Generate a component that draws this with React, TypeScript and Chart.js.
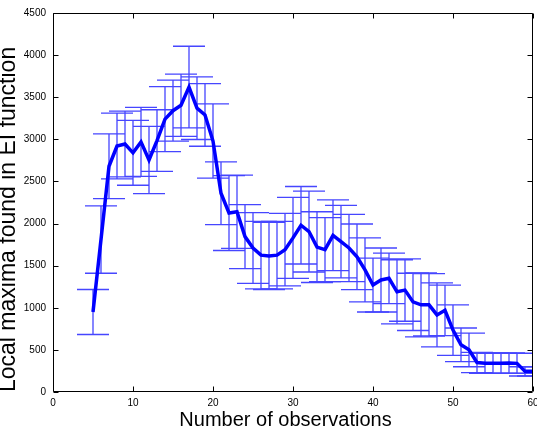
import React, { useEffect, useRef } from 'react';
import { Chart, registerables } from 'chart.js';

Chart.register(...registerables);

// Number of observations (x)
const observations = [
  5, 6, 7, 8, 9, 10, 11, 12, 13, 14, 15, 16, 17, 18, 19, 20,
  21, 22, 23, 24, 25, 26, 27, 28, 29, 30, 31, 32, 33, 34, 35, 36,
  37, 38, 39, 40, 41, 42, 43, 44, 45, 46, 47, 48, 49, 50, 51, 52,
  53, 54, 55, 56, 57, 58, 59, 60,
];

// Mean number of local maxima found in EI function
const meanMaxima = [
  950, 1810, 2680, 2920, 2945, 2840, 2970, 2755, 2985, 3240, 3340, 3405, 3620, 3370, 3290, 2980,
  2360, 2125, 2140, 1845, 1710, 1625, 1615, 1625, 1690, 1830, 1980, 1905, 1720, 1690, 1860, 1785,
  1710, 1605, 1450, 1270, 1330, 1350, 1190, 1210, 1070, 1035, 1035, 915, 970, 735, 560, 500,
  350, 340, 340, 340, 345, 340, 245, 245,
];

// Error bar half-lengths
const errMaxima = [
  267, 400, 385, 390, 390, 385, 410, 400, 366, 386, 362, 370, 485, 372, 372, 440,
  372, 445, 435, 380, 420, 400, 400, 400, 430, 480, 460, 480, 420, 380, 420, 430,
  400, 390, 380, 320, 380, 300, 380, 370, 340, 380, 370, 380, 300, 300, 200, 200,
  120, 120, 120, 120, 120, 120, 55, 55,
];

const xLabel = 'Number of observations';
const yLabel = 'Local maxima found in EI function';

const CAP_HALF = 2; // cap half-width, x units
const LINE_BLUE = '#0000ff';
const ERR_BLUE = 'rgb(70, 70, 255)';
const FONT = '"Liberation Sans", Arial, Helvetica, sans-serif';

const errorBarPlugin = {
  id: 'errorBars',
  beforeDatasetsDraw(chart: any) {
    const { ctx, chartArea, scales } = chart;
    const x = scales.x;
    const y = scales.y;
    ctx.save();
    ctx.beginPath();
    ctx.rect(chartArea.left, chartArea.top, chartArea.right - chartArea.left, chartArea.bottom - chartArea.top);
    ctx.clip();
    ctx.strokeStyle = ERR_BLUE;
    ctx.lineWidth = 1.3;
    observations.forEach((o, i) => {
      const px = x.getPixelForValue(o);
      const yt = y.getPixelForValue(meanMaxima[i] + errMaxima[i]);
      const yb = y.getPixelForValue(meanMaxima[i] - errMaxima[i]);
      const xl = x.getPixelForValue(o - CAP_HALF);
      const xr = x.getPixelForValue(o + CAP_HALF);
      ctx.beginPath();
      ctx.moveTo(px, yt);
      ctx.lineTo(px, yb);
      ctx.moveTo(xl, yt);
      ctx.lineTo(xr, yt);
      ctx.moveTo(xl, yb);
      ctx.lineTo(xr, yb);
      ctx.stroke();
    });
    ctx.restore();
  },
};

const framePlugin = {
  id: 'frame',
  afterDraw(chart: any) {
    const { ctx, chartArea, scales } = chart;
    const { left, right, top, bottom } = chartArea;
    const tl = 5;
    ctx.save();
    ctx.strokeStyle = '#000';
    ctx.lineWidth = 1;
    ctx.beginPath();
    const L = Math.round(left) + 0.5;
    const R = Math.round(right) - 0.5;
    const T = Math.round(top) + 0.5;
    const B = Math.round(bottom) - 0.5;
    ctx.rect(L, T, R - L, B - T);
    scales.x.ticks.forEach((t: any) => {
      const p = Math.round(scales.x.getPixelForValue(t.value)) + 0.5;
      ctx.moveTo(p, B);
      ctx.lineTo(p, B - tl);
      ctx.moveTo(p, T);
      ctx.lineTo(p, T + tl);
    });
    scales.y.ticks.forEach((t: any) => {
      const p = Math.round(scales.y.getPixelForValue(t.value)) + 0.5;
      ctx.moveTo(L, p);
      ctx.lineTo(L + tl, p);
      ctx.moveTo(R, p);
      ctx.lineTo(R - tl, p);
    });
    ctx.stroke();

    // x-axis label (slightly left of the axes centre, as in the original)
    ctx.fillStyle = '#000';
    ctx.font = `20px ${FONT}`;
    ctx.textAlign = 'center';
    ctx.textBaseline = 'middle';
    ctx.fillText(xLabel, (left + right) / 2 - 7.5, scales.x.bottom - 12);
    ctx.restore();
  },
};

export default function App() {
  const canvasRef = useRef<HTMLCanvasElement | null>(null);

  useEffect(() => {
    if (!canvasRef.current) return;
    const chart = new Chart(canvasRef.current, {
      type: 'line',
      data: {
        datasets: [
          {
            data: observations.map((o, i) => ({ x: o, y: meanMaxima[i] })),
            borderColor: LINE_BLUE,
            borderWidth: 3.5,
            pointRadius: 0,
            tension: 0,
            fill: false,
          },
        ],
      },
      options: {
        animation: false,
        responsive: true,
        maintainAspectRatio: false,
        layout: { padding: { top: 13, right: 4, bottom: 0, left: 0 } },
        plugins: {
          legend: { display: false },
          tooltip: { enabled: false },
        },
        scales: {
          x: {
            type: 'linear',
            min: 0,
            max: 60,
            grid: { display: false, drawTicks: false },
            border: { display: false },
            ticks: {
              stepSize: 10,
              padding: 5,
              color: '#000',
              maxRotation: 0,
              font: { family: FONT, size: 10 },
              callback: (v: any) => String(v),
            },
            title: { display: false },
            afterFit(s: any) {
              s.height = 40;
              s.paddingRight = 0;
              s.paddingLeft = 0;
            },
          },
          y: {
            min: 0,
            max: 4500,
            grid: { display: false, drawTicks: false },
            border: { display: false },
            ticks: {
              stepSize: 500,
              padding: 7,
              color: '#000',
              font: { family: FONT, size: 10 },
              callback: (v: any) => String(v),
            },
            title: {
              display: true,
              text: yLabel,
              color: '#000',
              align: 'start',
              padding: 0,
              font: { family: FONT, size: 23, lineHeight: '17px' },
            },
            afterFit(s: any) {
              s.width = 53;
              s.paddingTop = 0;
              s.paddingBottom = 0;
            },
          },
        },
      },
      plugins: [errorBarPlugin, framePlugin],
    } as any);
    return () => chart.destroy();
  }, []);

  return (
    <div style={{ position: 'absolute', left: 0, top: 0, width: 537, height: 432, background: '#fff' }}>
      <canvas ref={canvasRef} />
    </div>
  );
}
